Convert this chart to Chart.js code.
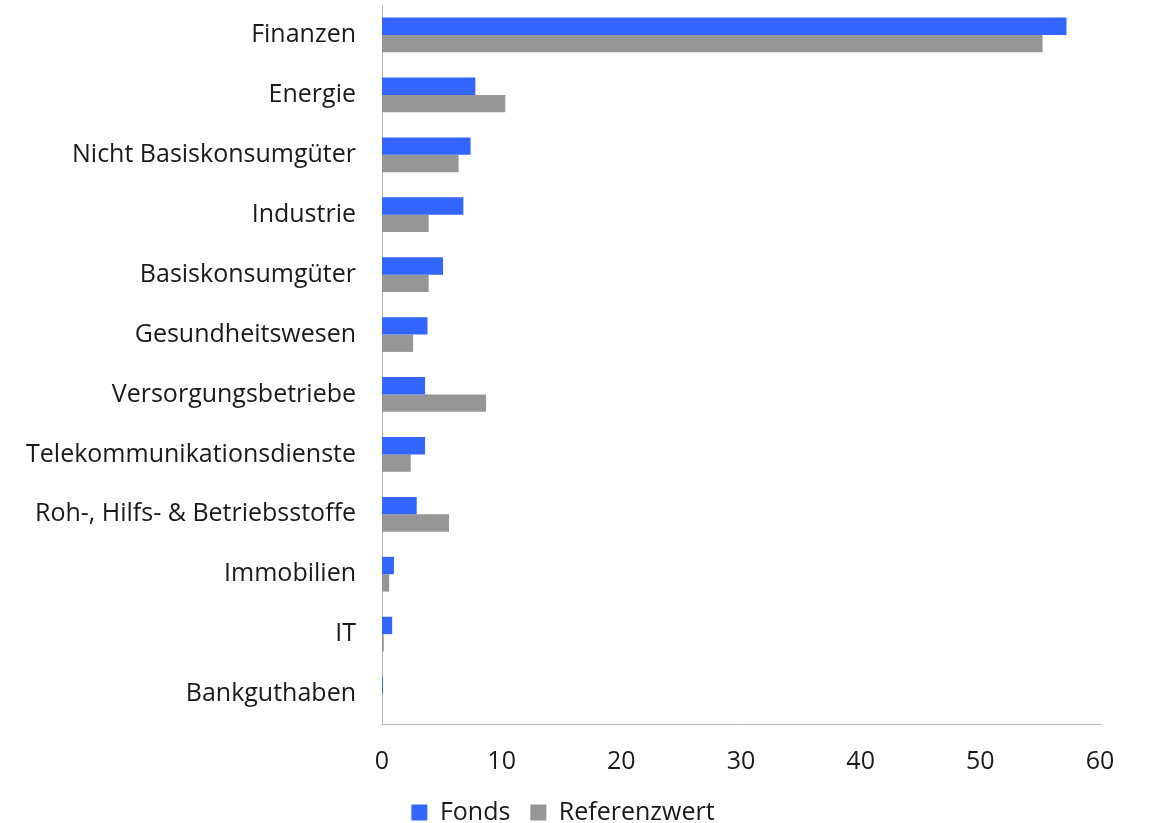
<!DOCTYPE html>
<html>
<head>
<meta charset="utf-8">
<script src="https://cdn.jsdelivr.net/npm/chart.js@4"></script>
<style>
  html, body { margin: 0; padding: 0; background: #ffffff; }
  #wrap { width: 1151px; height: 823px; }
</style>
</head>
<body>
<div id="wrap"><canvas id="myChart" width="1151" height="823"></canvas></div>
<script>
var sectors = ['Finanzen', 'Energie', 'Nicht Basiskonsumgüter', 'Industrie', 'Basiskonsumgüter',
    'Gesundheitswesen', 'Versorgungsbetriebe', 'Telekommunikationsdienste',
    'Roh-, Hilfs- & Betriebsstoffe', 'Immobilien', 'IT', 'Bankguthaben'];
var fondsValues = [57.2, 7.8, 7.4, 6.8, 5.1, 3.8, 3.6, 3.6, 2.9, 1.0, 0.85, 0.08];
var referenzValues = [55.2, 10.3, 6.4, 3.9, 3.9, 2.6, 8.7, 2.4, 5.6, 0.6, 0.15, 0];
var xTicks = [0, 10, 20, 30, 40, 50, 60];

var fontFamily = "'Open Sans', sans-serif";
var textColor = '#1a1a1a';

Chart.defaults.font.family = fontFamily;
Chart.defaults.font.size = 25;
Chart.defaults.color = textColor;

var ctx = document.getElementById('myChart');
var myChart = new Chart(ctx, {
    type: 'bar',
    data: {
        labels: sectors,
        datasets: [{
            label: 'Fonds',
            data: fondsValues,
            backgroundColor: '#3366ff',
            categoryPercentage: 0.58,
            barPercentage: 1.0
        }, {
            label: 'Referenzwert',
            data: referenzValues,
            backgroundColor: '#969696',
            categoryPercentage: 0.58,
            barPercentage: 1.0
        }]
    },
    options: {
        indexAxis: 'y',
        responsive: false,
        animation: false,
        // left padding only shifts the centred legend, the axis width below keeps the plot at x=382
        layout: { padding: { top: 5, right: 51, left: 26, bottom: -12 } },
        plugins: {
            tooltip: { enabled: false },
            legend: {
                position: 'bottom',
                labels: {
                    boxWidth: 16,
                    boxHeight: 16,
                    padding: 20,
                    font: { size: 25 },
                    color: textColor
                }
            }
        },
        scales: {
            x: {
                min: 0,
                max: 60,
                afterBuildTicks: function(scale) {
                    scale.ticks = xTicks.map(function(v) { return { value: v }; });
                },
                grid: { display: false, drawTicks: false },
                border: { display: true, color: '#b4b4b4', width: 1 },
                ticks: { padding: 23, color: textColor, font: { size: 25 } },
                afterFit: function(scale) { scale.height = 56; }
            },
            y: {
                grid: { display: false, drawTicks: false },
                border: { display: true, color: '#b4b4b4', width: 1 },
                ticks: { padding: 26, color: textColor, font: { size: 25 } },
                afterFit: function(scale) {
                    scale.width = 356;
                    scale.paddingTop = 0;
                    scale.paddingBottom = 0;
                }
            }
        }
    }
});
</script>
</body>
</html>
